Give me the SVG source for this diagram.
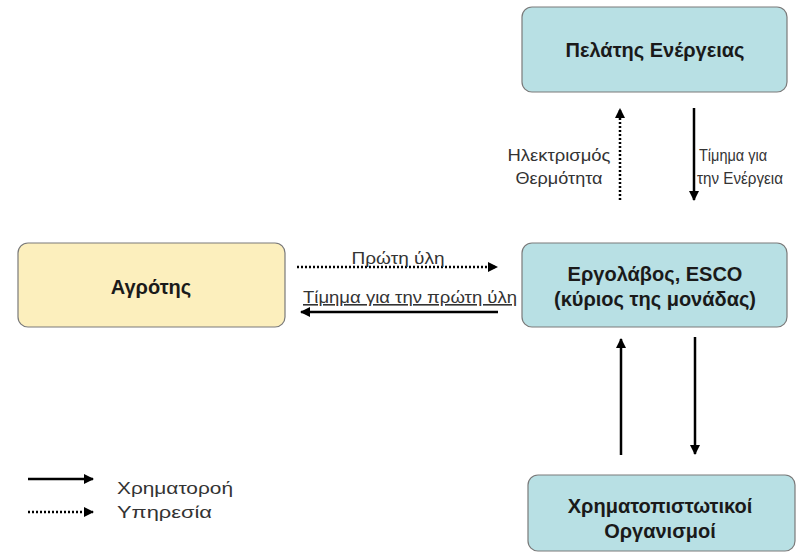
<svg xmlns="http://www.w3.org/2000/svg" width="810" height="556" viewBox="0 0 810 556">
<style>
.box{stroke:#7a7a7a;stroke-width:1.2}
.teal{fill:#b8e0e4}
.yel{fill:#fcefbd}
.bl{font-family:"Liberation Sans",Arial,sans-serif;font-weight:bold;font-size:20px;fill:#1a1a1a;text-anchor:middle}
.lb{font-family:"Liberation Sans",Arial,sans-serif;font-size:16px;fill:#333}
.solid{stroke:#000;stroke-width:2.5;fill:none}
.dot{stroke:#000;stroke-width:2.5;fill:none;stroke-dasharray:2 2}
</style>
<defs>
<marker id="ah" viewBox="0 0 10 10" refX="9" refY="5" markerWidth="4" markerHeight="4" orient="auto" markerUnits="strokeWidth">
<path d="M0,0 L10,5 L0,10 z" fill="#000"/>
</marker>
</defs>
<rect width="810" height="556" fill="#fff"/>
<g id="connectors">
<line class="dot" x1="620" y1="200" x2="620" y2="109" marker-end="url(#ah)"/>
<line class="solid" x1="694" y1="108" x2="694" y2="200" marker-end="url(#ah)"/>
<line class="dot" x1="297" y1="267" x2="497" y2="267" marker-end="url(#ah)"/>
<line class="solid" x1="498" y1="312" x2="301" y2="312" marker-end="url(#ah)"/>
<line class="solid" x1="621" y1="455" x2="621" y2="339" marker-end="url(#ah)"/>
<line class="solid" x1="695" y1="337" x2="695" y2="454" marker-end="url(#ah)"/>
<text class="lb" x="559" y="161" text-anchor="middle" textLength="103" lengthAdjust="spacingAndGlyphs">Ηλεκτρισμός</text>
<text class="lb" x="559" y="184" text-anchor="middle" textLength="87" lengthAdjust="spacingAndGlyphs">Θερμότητα</text>
<text class="lb" x="699" y="161" textLength="68" lengthAdjust="spacingAndGlyphs">Τίμημα για</text>
<text class="lb" x="697" y="184" textLength="86" lengthAdjust="spacingAndGlyphs">την Ενέργεια</text>
<text class="lb" x="398" y="264" text-anchor="middle" textLength="93" lengthAdjust="spacingAndGlyphs">Πρώτη ύλη</text>
<text class="lb" x="303" y="303" text-decoration="underline" textLength="214" lengthAdjust="spacingAndGlyphs">Τίμημα για την πρώτη ύλη</text>
</g>
<g id="n-pelatis">
<rect class="box teal" x="522" y="7" width="265" height="85" rx="10"/>
<text class="bl" x="655" y="57">Πελάτης Ενέργειας</text>
</g>
<g id="n-agrotis">
<rect class="box yel" x="18" y="243" width="267" height="84" rx="10"/>
<text class="bl" x="151" y="294">Αγρότης</text>
</g>
<g id="n-esco">
<rect class="box teal" x="522" y="243" width="265" height="84" rx="10"/>
<text class="bl" x="655" y="281">Εργολάβος, ESCO</text>
<text class="bl" x="655" y="306">(κύριος της μονάδας)</text>
</g>
<g id="n-xrimato">
<rect class="box teal" x="528" y="475" width="267" height="76" rx="10"/>
<text class="bl" x="660" y="513">Χρηματοπιστωτικοί</text>
<text class="bl" x="660" y="538">Οργανισμοί</text>
</g>
<g id="legend">
<line class="solid" x1="28" y1="479" x2="93" y2="479" marker-end="url(#ah)"/>
<line class="dot" x1="28" y1="512" x2="93" y2="512" marker-end="url(#ah)"/>
<text class="lb" x="117" y="494" font-size="18" textLength="116" lengthAdjust="spacingAndGlyphs">Χρηματοροή</text>
<text class="lb" x="117" y="518" font-size="18" textLength="95" lengthAdjust="spacingAndGlyphs">Υπηρεσία</text>
</g>
</svg>
